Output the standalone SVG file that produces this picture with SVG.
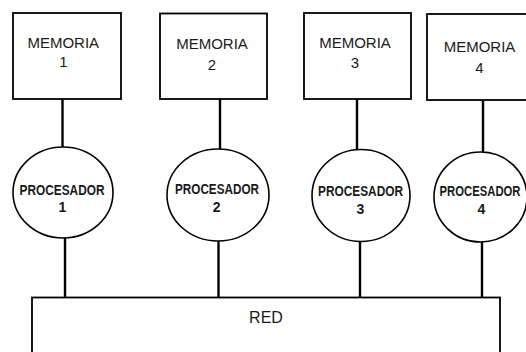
<svg xmlns="http://www.w3.org/2000/svg" width="526" height="352" viewBox="0 0 526 352">
  <style>
    .box { fill: #ffffff; stroke: #000000; stroke-width: 1.8; }
    .cpu { fill: #ffffff; stroke: #000000; stroke-width: 1.6; }
    .wire { stroke: #000000; stroke-width: 2.4; fill: none; }
    .mem { font-family: "Liberation Sans", Arial, sans-serif; font-size: 15px; fill: #1a1a1a; text-anchor: middle; }
    .proc { font-family: "Liberation Sans", Arial, sans-serif; font-size: 14px; font-weight: bold; fill: #1a1a1a; text-anchor: middle; }
    .net { font-family: "Liberation Sans", Arial, sans-serif; font-size: 16px; fill: #1a1a1a; text-anchor: middle; }
  </style>
  <rect width="526" height="352" fill="#ffffff"/>

  <!-- links: memory to processor, processor to network -->
  <g id="connectors">
    <line class="wire" x1="62.5" y1="99" x2="62.5" y2="147"/>
    <line class="wire" x1="220" y1="99" x2="220" y2="149"/>
    <line class="wire" x1="357" y1="99" x2="357" y2="150"/>
    <line class="wire" x1="483" y1="101" x2="483" y2="152"/>
    <line class="wire" x1="65" y1="238" x2="65" y2="298"/>
    <line class="wire" x1="218.5" y1="241" x2="218.5" y2="300"/>
    <line class="wire" x1="360" y1="242" x2="360" y2="300"/>
    <line class="wire" x1="482" y1="242" x2="482" y2="300"/>
  </g>

  <g id="mem1">
    <rect class="box" x="13" y="13" width="108" height="86"/>
    <text class="mem" x="63.3" y="48.3">MEMORIA</text>
    <text class="mem" x="63.3" y="66.7">1</text>
  </g>
  <g id="mem2">
    <rect class="box" x="160" y="13.5" width="107" height="85.5"/>
    <text class="mem" x="212" y="48.7">MEMORIA</text>
    <text class="mem" x="212" y="70">2</text>
  </g>
  <g id="mem3">
    <rect class="box" x="304" y="13" width="107" height="86"/>
    <text class="mem" x="355" y="47.7">MEMORIA</text>
    <text class="mem" x="355" y="67.7">3</text>
  </g>
  <g id="mem4">
    <rect class="box" x="427" y="14" width="101" height="86"/>
    <text class="mem" x="479.5" y="52.3">MEMORIA</text>
    <text class="mem" x="479.5" y="73.3">4</text>
  </g>

  <g id="cpu1">
    <ellipse class="cpu" cx="63" cy="192.5" rx="50" ry="45.5"/>
    <text class="proc" x="62" y="195" textLength="85" lengthAdjust="spacingAndGlyphs">PROCESADOR</text>
    <text class="proc" x="62.3" y="211.7">1</text>
  </g>
  <g id="cpu2">
    <ellipse class="cpu" cx="218" cy="195" rx="51" ry="46"/>
    <text class="proc" x="217" y="194.3" textLength="84" lengthAdjust="spacingAndGlyphs">PROCESADOR</text>
    <text class="proc" x="216.7" y="211.7">2</text>
  </g>
  <g id="cpu3">
    <ellipse class="cpu" cx="361" cy="195.5" rx="49" ry="46"/>
    <text class="proc" x="360.5" y="196" textLength="85" lengthAdjust="spacingAndGlyphs">PROCESADOR</text>
    <text class="proc" x="360.5" y="214.3">3</text>
  </g>
  <g id="cpu4">
    <ellipse class="cpu" cx="480.5" cy="197" rx="46.5" ry="45"/>
    <text class="proc" x="480" y="196" textLength="81" lengthAdjust="spacingAndGlyphs">PROCESADOR</text>
    <text class="proc" x="481.5" y="214">4</text>
  </g>

  <g id="red">
    <rect class="box" x="32" y="297.5" width="468" height="70"/>
    <text class="net" x="266" y="323">RED</text>
  </g>
</svg>
